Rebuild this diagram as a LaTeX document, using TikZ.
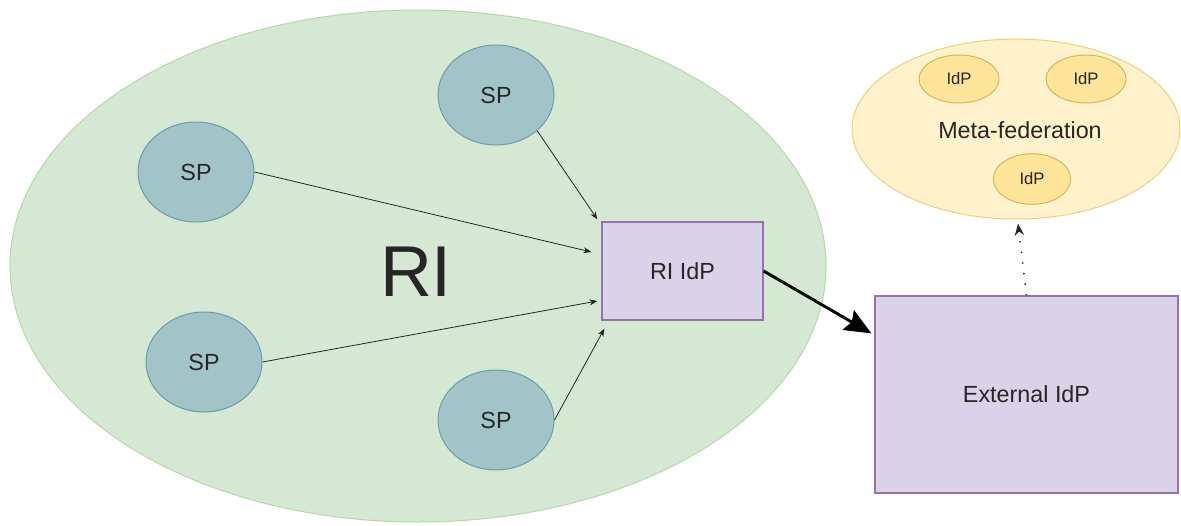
\documentclass[tikz,border=0pt]{standalone}
\usepackage{fontspec}
\setmainfont{Liberation Sans}
\usetikzlibrary{shapes.geometric,arrows.meta}
\definecolor{rifill}{HTML}{D5E8D4}
\definecolor{riline}{HTML}{B7D7A8}
\definecolor{spfill}{HTML}{A2C4C9}
\definecolor{spline}{HTML}{6A9DA8}
\definecolor{idpfill}{HTML}{D9D2E9}
\definecolor{idpline}{HTML}{9673A6}
\definecolor{metafill}{HTML}{FFF2CC}
\definecolor{metaline}{HTML}{F1CF7A}
\definecolor{smallfill}{HTML}{FFE599}
\definecolor{smallline}{HTML}{D6B656}
\begin{document}
\begin{tikzpicture}[x=0.75pt,y=-0.75pt,
  every node/.style={inner sep=0pt, font=\fontsize{17.5}{20}\selectfont, text=black!85},
  region/.style={ellipse, fill=rifill, draw=riline, line width=0.75pt},
  spnode/.style={ellipse, fill=spfill, draw=spline, line width=0.75pt,
                 minimum width=87pt, minimum height=75pt},
  idpbox/.style={rectangle, fill=idpfill, draw=idpline, line width=0.9pt},
  metaregion/.style={ellipse, fill=metafill, draw=metaline, line width=0.75pt},
  smallidp/.style={ellipse, fill=smallfill, draw=smallline, line width=0.75pt,
                   font=\fontsize{12.5}{14}\selectfont},
  thinarr/.style={-{Stealth[length=6pt,width=4.5pt]}, line width=0.6pt, black!85},
  thickarr/.style={-{Stealth[length=20pt,width=17pt,inset=3pt]}, line width=2.2pt},
  dotarr/.style={-{Stealth[length=9pt,width=7pt]}, line width=1.2pt,
                 dash pattern=on 1pt off 7pt, black!85},
]
\useasboundingbox (0,0) rectangle (1181,525);

% Research infrastructure region
\node[region, minimum width=612pt, minimum height=384pt] (ri) at (418,266) {};
\node[font=\fontsize{54}{60}\selectfont] (rilabel) at (416,272) {RI};

% Service providers
\node[spnode] (sptop) at (496,95) {SP};
\node[spnode] (spleft) at (196,172) {SP};
\node[spnode] (spmid) at (204,362) {SP};
\node[spnode] (spbot) at (496,420) {SP};

% Identity providers
\node[idpbox, minimum width=120.75pt, minimum height=73.5pt] (riidp) at (682.5,271) {RI IdP};
\node[idpbox, minimum width=227.25pt, minimum height=147.75pt] (ext) at (1026.5,394.5) {External IdP};

% Meta-federation
\node[metaregion, minimum width=246pt, minimum height=135pt] (meta) at (1016,129) {};
\node (metalabel) at (1020,130) {Meta-federation};
\node[smallidp, minimum width=60pt, minimum height=36pt] (idpa) at (959,79) {IdP};
\node[smallidp, minimum width=60pt, minimum height=36pt] (idpb) at (1086,79) {IdP};
\node[smallidp, minimum width=58pt, minimum height=38pt] (idpc) at (1032,179) {IdP};

% Connectors
\draw[thinarr] (sptop.-41) -- ([shift={(-4,-2)}]riidp.north west);
\draw[thinarr] (spleft.east) -- ([shift={(-10,-19)}]riidp.west);
\draw[thinarr] (spmid.east) -- ([shift={(-4,30)}]riidp.west);
\draw[thinarr] (spbot.east) -- ([shift={(3,8)}]riidp.south west);
\draw[thickarr] (riidp.east) -- ([shift={(-3,38)}]ext.north west);
\draw[dotarr] (ext.north) -- ([shift={(2,4)}]meta.south);
\end{tikzpicture}
\end{document}
